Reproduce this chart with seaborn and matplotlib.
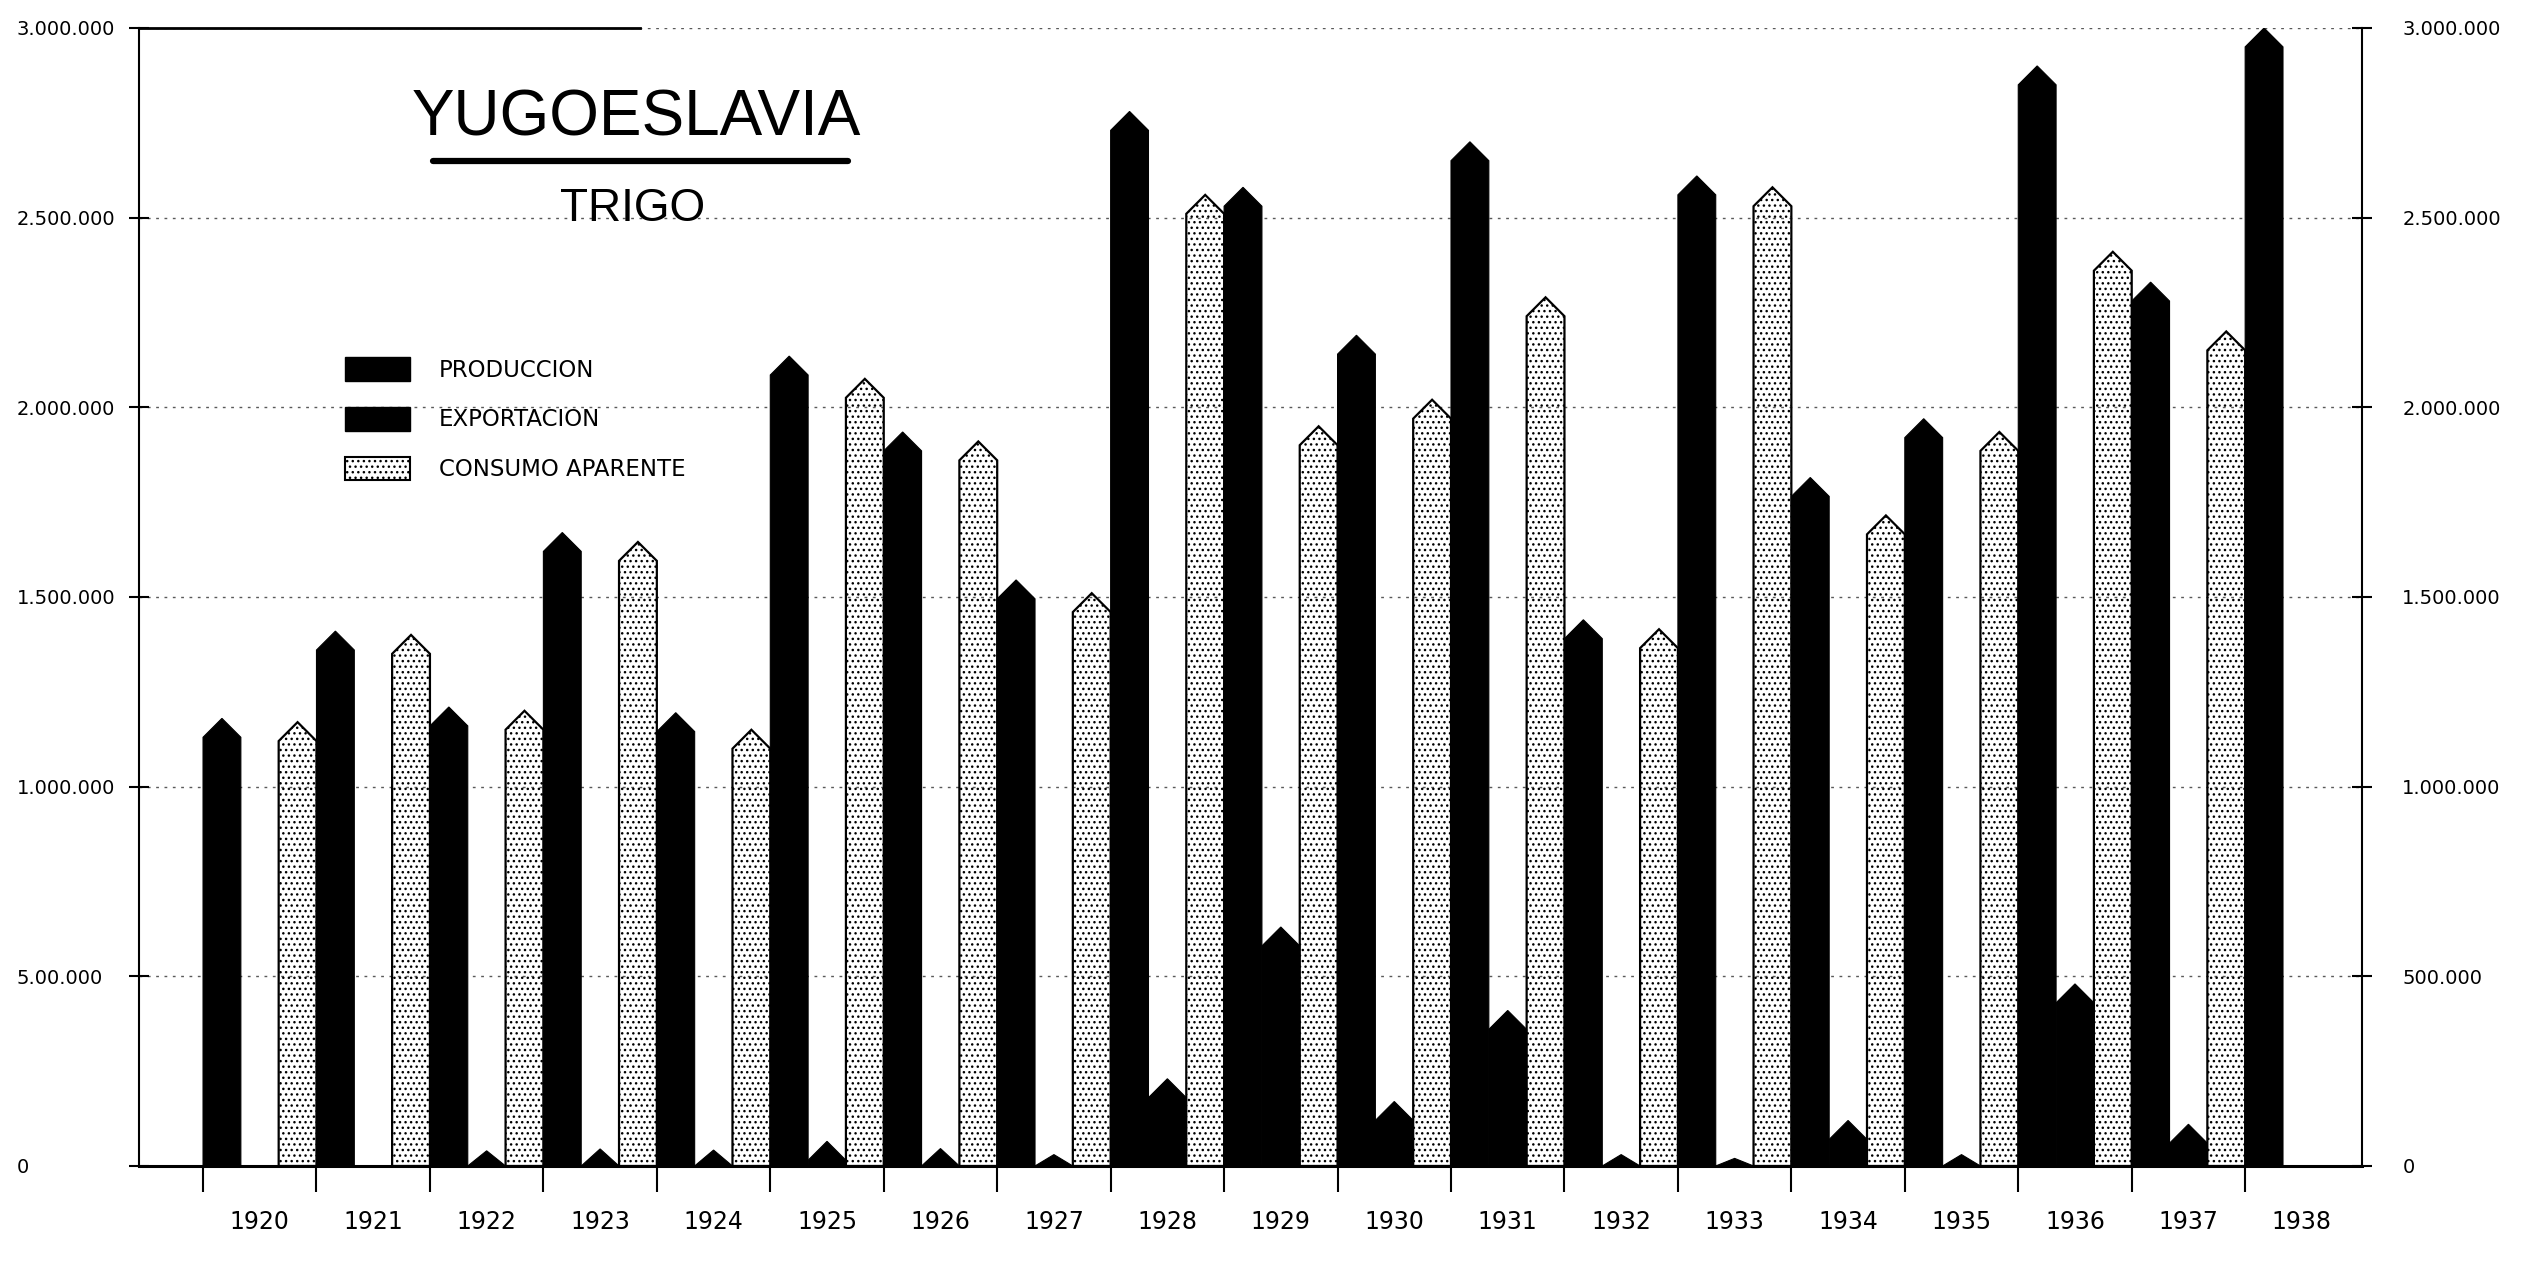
import numpy as np
import pandas as pd
import matplotlib.pyplot as plt
import seaborn as sns
from matplotlib.patches import Polygon, Patch
from matplotlib.lines import Line2D

# Yugoeslavia - trigo (toneladas)
anios = [str(a) for a in range(1920, 1939)]
produccion = [1180000, 1410000, 1210000, 1670000, 1195000, 2135000, 1935000, 1545000, 2780000, 2580000,
              2190000, 2700000, 1440000, 2610000, 1815000, 1970000, 2900000, 2330000, 3000000]
exportacion = [0, 0, 40000, 45000, 42000, 65000, 46000, 30000, 230000, 630000,
               170000, 410000, 30000, 20000, 120000, 30000, 480000, 110000, np.nan]
consumo = [1170000, 1400000, 1200000, 1645000, 1150000, 2075000, 1910000, 1510000, 2560000, 1950000,
           2020000, 2290000, 1415000, 2580000, 1715000, 1935000, 2410000, 2200000, np.nan]

series = ['Produccion', 'Exportacion', 'Consumo Aparente']
leyenda = ['PRODUCCION', 'EXPORTACION', 'CONSUMO APARENTE']
colores = {'Produccion': 'black', 'Exportacion': 'black', 'Consumo Aparente': 'white'}

ticks_y = [0, 500000, 1000000, 1500000, 2000000, 2500000, 3000000]
etiquetas_izq = ['0', '5.00.000', '1.000.000', '1.500.000', '2.000.000', '2.500.000', '3.000.000']
etiquetas_der = ['0', '500.000', '1.000.000', '1.500.000', '2.000.000', '2.500.000', '3.000.000']

df = pd.DataFrame({
    'anio': anios * 3,
    'serie': np.repeat(series, len(anios)),
    'valor': produccion + exportacion + consumo,
}).dropna()

sns.set_style('white')
plt.rcParams['font.family'] = ['DejaVu Sans']
plt.rcParams['text.color'] = 'black'
plt.rcParams['xtick.color'] = 'black'
plt.rcParams['ytick.color'] = 'black'
plt.rcParams['hatch.linewidth'] = 1.0

fig = plt.figure(figsize=(25.42, 12.66), dpi=100)
ax = fig.add_axes([0.0547, 0.079, 0.8745, 0.8989])

sns.barplot(data=df, x='anio', y='valor', hue='serie', hue_order=series, order=anios,
            palette=colores, width=1.0, saturation=1, errorbar=None, legend=False, ax=ax)

ax.set_xlim(-1.064, 18.53)
ax.set_ylim(0, 3000000)

# barras con punta: se reemplaza cada rectangulo por un pentagono
px_x = ax.transData.transform((1, 0))[0] - ax.transData.transform((0, 0))[0]
px_y = ax.transData.transform((0, 1))[1] - ax.transData.transform((0, 0))[1]
for cont, serie in zip(ax.containers, series):
    for rect in list(cont):
        x0, w, h = rect.get_x(), rect.get_width(), rect.get_height()
        rect.remove()
        if np.isnan(h) or h <= 0:
            continue
        punta = min(0.5 * w * px_x / px_y, h)
        verts = [(x0, 0), (x0, h - punta), (x0 + w / 2, h), (x0 + w, h - punta), (x0 + w, 0)]
        if serie == 'Consumo Aparente':
            poly = Polygon(verts, closed=True, facecolor='none', edgecolor='black',
                           hatch='...', lw=1.6, zorder=2)
        else:
            poly = Polygon(verts, closed=True, facecolor='black', edgecolor='black', lw=0.8, zorder=2)
        ax.add_patch(poly)

# ejes
ax.yaxis.grid(True, color='0.35', linestyle=(0, (2, 4)), lw=1.0)
ax.set_axisbelow(True)
ax.set_yticks(ticks_y)
ax.set_yticklabels(etiquetas_izq, fontsize=14, ha='left')
ax.tick_params(axis='y', direction='inout', length=14, width=1.5, pad=81, left=True)

ax.set_xticks(np.arange(-0.5, 18, 1))
ax.set_xticklabels([])
ax.set_xticks(np.arange(len(anios)), minor=True)
ax.set_xticklabels(anios, minor=True, fontsize=17)
ax.tick_params(axis='x', which='major', direction='out', length=19, width=1.5, bottom=True)
ax.tick_params(axis='x', which='minor', length=0, pad=32)
ax.set_xlabel('')
ax.set_ylabel('')

ax.spines['right'].set_visible(False)
ax.spines['left'].set_linewidth(1.5)
ax.spines['bottom'].set_linewidth(2.2)
ax.spines['top'].set_linewidth(2.0)
ax.spines['top'].set_bounds(-1.064, 3.35)
for s in ['left', 'bottom', 'top']:
    ax.spines[s].set_color('black')

ax2 = ax.twinx()
ax2.set_ylim(0, 3000000)
ax2.set_yticks(ticks_y)
ax2.set_yticklabels(etiquetas_der, fontsize=14)
ax2.tick_params(axis='y', direction='inout', length=14, width=1.5, pad=22, right=True)
for s in ['top', 'left', 'bottom']:
    ax2.spines[s].set_visible(False)
ax2.spines['right'].set_linewidth(1.5)
ax2.spines['right'].set_color('black')

# titulo
fig.text(636 / 2542, 1 - 119 / 1266, 'YUGOESLAVIA', ha='center', va='center', fontsize=46,
         family='Liberation Sans', color='black')
fig.add_artist(Line2D([433 / 2542, 848 / 2542], [1 - 161 / 1266] * 2, color='black', lw=4.5,
                      solid_capstyle='round'))
fig.text(633 / 2542, 1 - 209 / 1266, 'TRIGO', ha='center', va='center', fontsize=33,
         family='Liberation Sans', color='black')

# leyenda
handles = [Patch(facecolor='black', edgecolor='black'),
           Patch(facecolor='black', edgecolor='black'),
           Patch(facecolor='white', edgecolor='black', hatch='...', lw=1.5)]
fig.legend(handles, leyenda, loc='upper left', bbox_to_anchor=(345 / 2542, 1 - 357 / 1266),
           frameon=False, fontsize=16.5, handlelength=2.84, handleheight=1.22,
           labelspacing=1.1, handletextpad=1.27, borderpad=0, borderaxespad=0)

fig.savefig('out.png', dpi=100, facecolor='white')
